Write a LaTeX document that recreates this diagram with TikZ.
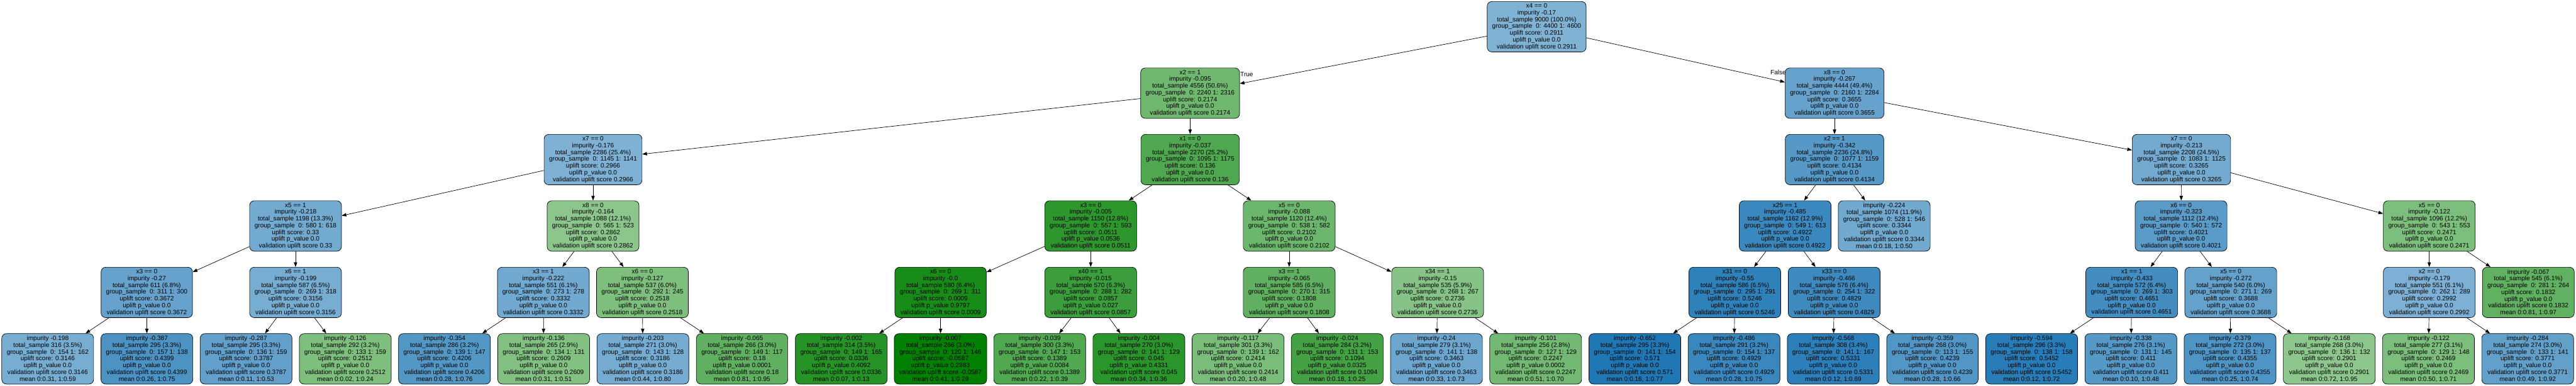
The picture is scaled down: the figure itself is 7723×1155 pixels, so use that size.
\documentclass[tikz,border=0pt]{standalone}
\usepackage{fontspec}
\setmainfont{Liberation Sans}
\usetikzlibrary{arrows.meta}

\definecolor{upblue}{HTML}{1F77B4}
\definecolor{upgreen}{HTML}{008000}
\def\rootscore{0.2911}

% text of a split node and of a leaf node
\newcommand{\splittxt}[7]{#1\\impurity #2\\total\_sample #3\\group\_sample~~0: #4 1: #5\\uplift score: #6\\uplift p\_value #7\\validation uplift score #6}
\newcommand{\leaftxt}[8]{impurity #1\\total\_sample #2\\group\_sample~~0: #3 1: #4\\uplift score: #5\\uplift p\_value #6\\validation uplift score #5\\mean 0:#7, 1:#8}

% fill: green below the root score, blue above
\tikzset{
  score/.code={%
    \pgfmathsetmacro{\sdiff}{#1-\rootscore}%
    \ifdim\sdiff pt<0pt
      \pgfmathsetmacro{\smix}{min(100,44.3-159*\sdiff)}%
      \xglobal\colorlet{cellfill}{upgreen!\smix!white}%
    \else
      \pgfmathsetmacro{\smix}{min(100,56.7+154.7*\sdiff)}%
      \xglobal\colorlet{cellfill}{upblue!\smix!white}%
    \fi
    \pgfkeysalso{fill=cellfill}}
}

\begin{document}
\begin{tikzpicture}[x=1pt,y=1pt]
\tikzstyle{split} = [rectangle, rounded corners=14pt, draw, line width=1.3pt, minimum width=271pt, minimum height=151pt, inner xsep=15pt, inner ysep=4pt, align=center, font=\fontsize{19}{20.2}\selectfont]
\tikzstyle{leaf} = [split]
\tikzstyle{edge} = [line width=1.3pt, -{Triangle[length=14pt,width=10pt]}]
\tikzstyle{edge_label} = [inner sep=0pt, font=\fontsize{19}{20.2}\selectfont]
\def\step{-198.9}
\def\layerpos{-80}

\useasboundingbox (0,0) rectangle (7723,-1155);

%root
\node[split, score=0.2911] (root) at (4607, \layerpos) {\splittxt{x4 == 0}{-0.17}{9000 (100.0\%)}{4400}{4600}{0.2911}{0.0}};

%first split
\pgfmathsetmacro{\layerpos}{\layerpos + \step}
\foreach \name/\x/\cond/\imp/\tot/\ga/\gb/\sc/\pv in {
  n1/3568/x2 == 1/-0.095/4556 (50.6\%)/2240/2316/0.2174/0.0,
  n2/5500/x8 == 0/-0.267/4444 (49.4\%)/2160/2284/0.3655/0.0}
  \node[split, score=\sc] (\name) at (\x, \layerpos) {\splittxt{\cond}{\imp}{\tot}{\ga}{\gb}{\sc}{\pv}};

\draw[edge] (root) -- (n1) node[pos=1, anchor=base west, xshift=1pt, yshift=21pt, edge_label] (true_label) {True};
\draw[edge] (root) -- (n2) node[pos=1, anchor=base east, xshift=4pt, yshift=22pt, edge_label] (false_label) {False};

%second split
\pgfmathsetmacro{\layerpos}{\layerpos + \step}
\foreach \name/\x/\cond/\imp/\tot/\ga/\gb/\sc/\pv in {
  n3/1778/x7 == 0/-0.176/2286 (25.4\%)/1145/1141/0.2966/0.0,
  n4/3568/x1 == 0/-0.037/2270 (25.2\%)/1095/1175/0.136/0.0,
  n5/5500/x2 == 1/-0.342/2236 (24.8\%)/1077/1159/0.4134/0.0,
  n6/6540/x7 == 0/-0.213/2208 (24.5\%)/1083/1125/0.3265/0.0}
  \node[split, score=\sc] (\name) at (\x, \layerpos) {\splittxt{\cond}{\imp}{\tot}{\ga}{\gb}{\sc}{\pv}};

%third split
\pgfmathsetmacro{\layerpos}{\layerpos + \step}
\foreach \name/\x/\cond/\imp/\tot/\ga/\gb/\sc/\pv in {
  n7/886/x5 == 1/-0.218/1198 (13.3\%)/580/618/0.33/0.0,
  n8/1778/x8 == 0/-0.164/1088 (12.1\%)/565/523/0.2862/0.0,
  n9/3270/x3 == 0/-0.005/1150 (12.8\%)/557/593/0.0511/0.0536,
  n10/3865/x5 == 0/-0.088/1120 (12.4\%)/538/582/0.2102/0.0,
  n11/5352/x25 == 1/-0.485/1162 (12.9\%)/549/613/0.4922/0.0,
  n13/6539/x6 == 0/-0.323/1112 (12.4\%)/540/572/0.4021/0.0,
  n14/7283/x5 == 0/-0.122/1096 (12.2\%)/543/553/0.2471/0.0}
  \node[split, score=\sc] (\name) at (\x, \layerpos) {\splittxt{\cond}{\imp}{\tot}{\ga}{\gb}{\sc}{\pv}};
\node[leaf, score=0.3344] (n12) at (5649, \layerpos) {\leaftxt{-0.224}{1074 (11.9\%)}{528}{546}{0.3344}{0.0}{0.18}{0.50}};

%fourth split
\pgfmathsetmacro{\layerpos}{\layerpos + \step}
\foreach \name/\x/\cond/\imp/\tot/\ga/\gb/\sc/\pv in {
  n15/440/x3 == 0/-0.27/611 (6.8\%)/311/300/0.3672/0.0,
  n16/886/x6 == 1/-0.199/587 (6.5\%)/269/318/0.3156/0.0,
  n17/1629/x3 == 1/-0.222/551 (6.1\%)/273/278/0.3332/0.0,
  n18/1926/x6 == 0/-0.127/537 (6.0\%)/292/245/0.2518/0.0,
  n19/2820/x6 == 0/-0.0/580 (6.4\%)/269/311/0.0009/0.9797,
  n20/3270/x40 == 1/-0.015/570 (6.3\%)/288/282/0.0857/0.027,
  n21/3865/x3 == 1/-0.065/585 (6.5\%)/270/315/0.1808/0.0,
  n22/4310/x34 == 1/-0.15/535 (5.9\%)/268/267/0.2736/0.0,
  n23/5201/x31 == 0/-0.55/586 (6.5\%)/295/291/0.5246/0.0,
  n24/5499/x33 == 0/-0.466/576 (6.4\%)/254/322/0.4829/0.0,
  n25/6391/x1 == 1/-0.433/572 (6.4\%)/269/303/0.4651/0.0,
  n26/6688/x5 == 0/-0.272/540 (6.0\%)/271/269/0.3688/0.0,
  n27/7283/x2 == 0/-0.179/551 (6.1\%)/262/289/0.2992/0.0}
  \node[split, score=\sc] (\name) at (\x, \layerpos) {\splittxt{\cond}{\imp}{\tot}{\ga}{\gb}{\sc}{\pv}};
\node[leaf, score=0.1832] (n28) at (7580, \layerpos) {\leaftxt{-0.067}{545 (6.1\%)}{281}{264}{0.1832}{0.0}{0.81}{0.97}};

%leaves
\pgfmathsetmacro{\layerpos}{\layerpos + \step}
\foreach \imp/\tot/\ga/\gb/\sc/\pv/\ma/\mb [count=\i from 0] in {
  -0.198/316 (3.5\%)/154/162/0.3146/0.0/0.31/0.59,
  -0.387/295 (3.3\%)/157/138/0.4399/0.0/0.26/0.75,
  -0.287/295 (3.3\%)/136/159/0.3787/0.0/0.11/0.53,
  -0.126/292 (3.2\%)/133/159/0.2512/0.0/0.02/0.24,
  -0.354/286 (3.2\%)/139/147/0.4206/0.0/0.28/0.76,
  -0.136/265 (2.9\%)/134/131/0.2609/0.0/0.31/0.51,
  -0.203/271 (3.0\%)/143/128/0.3186/0.0/0.44/0.80,
  -0.065/266 (3.0\%)/149/117/0.18/0.0001/0.81/0.95,
  -0.002/314 (3.5\%)/149/165/0.0336/0.4092/0.07/0.13,
  -0.007/266 (3.0\%)/120/146/-0.0587/0.2983/0.41/0.29,
  -0.039/300 (3.3\%)/147/153/0.1389/0.0084/0.22/0.39,
  -0.004/270 (3.0\%)/141/129/0.045/0.4331/0.34/0.36,
  -0.117/301 (3.3\%)/139/162/0.2414/0.0/0.20/0.48,
  -0.024/284 (3.2\%)/131/153/0.1094/0.0325/0.18/0.25,
  -0.24/279 (3.1\%)/141/138/0.3463/0.0/0.33/0.73,
  -0.101/256 (2.8\%)/127/129/0.2247/0.0002/0.51/0.70,
  -0.652/295 (3.3\%)/141/154/0.571/0.0/0.16/0.77,
  -0.486/291 (3.2\%)/154/137/0.4929/0.0/0.28/0.75,
  -0.568/308 (3.4\%)/141/167/0.5331/0.0/0.12/0.69,
  -0.359/268 (3.0\%)/113/155/0.4239/0.0/0.28/0.66,
  -0.594/296 (3.3\%)/138/158/0.5452/0.0/0.12/0.72,
  -0.338/276 (3.1\%)/131/145/0.411/0.0/0.10/0.48,
  -0.379/272 (3.0\%)/135/137/0.4355/0.0/0.25/0.74,
  -0.168/268 (3.0\%)/136/132/0.2901/0.0/0.72/0.95,
  -0.122/277 (3.1\%)/129/148/0.2469/0.0/0.50/0.71,
  -0.284/274 (3.0\%)/133/141/0.3771/0.0/0.49/0.92}
{
  \pgfmathsetmacro{\lx}{143 + 297.4*\i}
  \node[leaf, score=\sc] (l\i) at (\lx, \layerpos) {\leaftxt{\imp}{\tot}{\ga}{\gb}{\sc}{\pv}{\ma}{\mb}};
}

\foreach \from/\to in {n1/n3, n1/n4, n2/n5, n2/n6,
  n3/n7, n3/n8, n4/n9, n4/n10, n5/n11, n5/n12, n6/n13, n6/n14,
  n7/n15, n7/n16, n8/n17, n8/n18, n9/n19, n9/n20, n10/n21, n10/n22,
  n11/n23, n11/n24, n13/n25, n13/n26, n14/n27, n14/n28,
  n15/l0, n15/l1, n16/l2, n16/l3, n17/l4, n17/l5, n18/l6, n18/l7,
  n19/l8, n19/l9, n20/l10, n20/l11, n21/l12, n21/l13, n22/l14, n22/l15,
  n23/l16, n23/l17, n24/l18, n24/l19, n25/l20, n25/l21, n26/l22, n26/l23,
  n27/l24, n27/l25}
	\draw[edge] (\from) -- (\to);
\end{tikzpicture}
\end{document}
